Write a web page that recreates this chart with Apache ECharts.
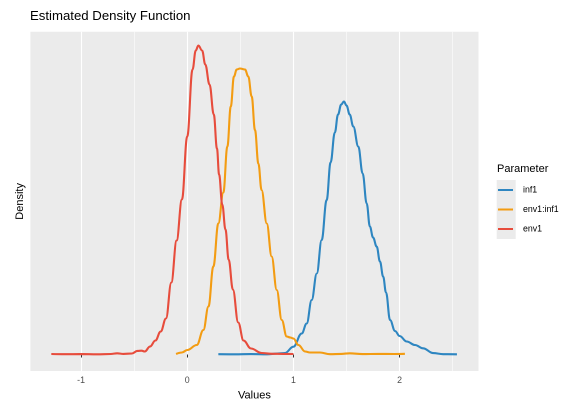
<!DOCTYPE html>
<html>
<head>
<meta charset="utf-8">
<script src="https://cdn.jsdelivr.net/npm/echarts@6/dist/echarts.min.js"></script>
<style>html,body{margin:0;padding:0;background:#fff;}#c{width:566px;height:402px;}</style>
</head>
<body>
<div id="c"></div>
<script>
var seriesNames = ['inf1', 'env1:inf1', 'env1'];
var xTicks = [-1, 0, 1, 2];
var xMinorTicks = [-0.5, 0.5, 1.5, 2.5];

var inf1X = [0.293, 0.45, 0.6, 0.75, 0.85, 0.92, 1.0, 1.078, 1.125, 1.172, 1.22, 1.266, 1.313, 1.35, 1.39, 1.42, 1.45, 1.476, 1.50, 1.53, 1.564, 1.611, 1.652, 1.69, 1.72, 1.75, 1.784, 1.815, 1.845, 1.872, 1.91, 1.957, 2.0, 2.067, 2.145, 2.22, 2.317, 2.41, 2.54];
var inf1Y = [0.003, 0.002, 0.004, 0.002, 0.01, 0.015, 0.078, 0.21, 0.31, 0.545, 0.81, 1.145, 1.545, 1.92, 2.22, 2.4, 2.5, 2.53, 2.49, 2.4, 2.28, 2.08, 1.81, 1.51, 1.28, 1.17, 1.08, 0.93, 0.78, 0.62, 0.345, 0.235, 0.185, 0.13, 0.095, 0.062, 0.014, 0.003, 0.002];

var envInfX = [-0.105, -0.05, 0.0, 0.09, 0.152, 0.2, 0.246, 0.293, 0.34, 0.378, 0.41, 0.44, 0.466, 0.497, 0.544, 0.575, 0.607, 0.638, 0.67, 0.70, 0.749, 0.795, 0.843, 0.89, 0.937, 0.97, 1.0, 1.047, 1.11, 1.156, 1.25, 1.345, 1.45, 1.53, 1.65, 1.8, 1.95, 2.05];
var envInfY = [0.005, 0.02, 0.045, 0.095, 0.245, 0.48, 0.88, 1.31, 1.62, 2.08, 2.48, 2.78, 2.85, 2.86, 2.85, 2.78, 2.58, 2.245, 1.91, 1.645, 1.31, 0.98, 0.645, 0.345, 0.18, 0.17, 0.16, 0.095, 0.03, 0.02, 0.02, 0.003, 0.006, 0.012, 0.004, 0.006, 0.005, 0.007];

var env1X = [-1.28, -1.15, -1.0, -0.85, -0.72, -0.66, -0.6, -0.52, -0.47, -0.43, -0.40, -0.35, -0.30, -0.25, -0.20, -0.15, -0.10, -0.05, 0.00, 0.05, 0.08, 0.105, 0.14, 0.17, 0.21, 0.25, 0.28, 0.30, 0.33, 0.36, 0.39, 0.43, 0.48, 0.53, 0.60, 0.70, 0.80, 0.90, 1.00];
var env1Y = [0.005, 0.003, 0.004, 0.002, 0.005, 0.012, 0.006, 0.01, 0.036, 0.038, 0.03, 0.08, 0.14, 0.23, 0.36, 0.72, 1.14, 1.55, 2.18, 2.85, 3.04, 3.09, 3.04, 2.9, 2.7, 2.4, 2.06, 1.8, 1.5, 1.25, 0.95, 0.65, 0.32, 0.14, 0.06, 0.015, 0.007, 0.006, 0.005];

var colors = ['#2E86C1', '#F39C12', '#E74C3C'];

function pairs(xs, ys) { return xs.map(function (x, i) { return [x, ys[i]]; }); }
var allData = [pairs(inf1X, inf1Y), pairs(envInfX, envInfY), pairs(env1X, env1Y)];

var FONT = 'Liberation Sans';
var chart = echarts.init(document.getElementById('c'), null, { renderer: 'canvas', devicePixelRatio: 2 });

var xMin = -1.477, xMax = 2.743;
var option = {
  animation: false,
  backgroundColor: '#ffffff',
  title: {
    text: 'Estimated Density Function',
    left: 30, top: 10, padding: 0,
    textStyle: { fontFamily: FONT, fontSize: 13.2, fontWeight: 'normal', color: '#000' }
  },
  grid: {
    left: 30.4, right: 87.5, top: 31.8, bottom: 31,
    outerBoundsMode: 'none', containLabel: false,
    show: true, backgroundColor: '#EBEBEB', borderWidth: 0
  },
  legend: {
    orient: 'vertical',
    left: 498, top: 180.25, padding: 0,
    itemWidth: 15, itemHeight: 2, itemGap: 0,
    icon: 'rect',
    data: seriesNames,
    textStyle: { fontFamily: FONT, fontSize: 8.8, color: '#000', lineHeight: 19.5, padding: [0, 0, 0, 5] }
  },
  graphic: [
    { type: 'rect', shape: { x: 496.7, y: 180, width: 19, height: 59 }, style: { fill: '#EBEBEB' }, z: -1, silent: true },
    { type: 'text', x: 497, y: 169, style: { text: 'Parameter', fontFamily: FONT, fontSize: 11, fill: '#000', verticalAlign: 'middle', align: 'left' } }
  ],
  xAxis: [{
    type: 'value', min: xMin, max: xMax,
    name: 'Values', nameLocation: 'middle', nameGap: 16,
    nameTextStyle: { fontFamily: FONT, fontSize: 11, color: '#000' },
    axisLine: { show: false },
    axisTick: { show: true, length: 3, lineStyle: { color: '#333333', width: 1 }, customValues: xTicks },
    axisLabel: { show: true, customValues: xTicks, fontFamily: FONT, fontSize: 8.8, color: '#4D4D4D', margin: 5 },
    splitLine: { show: true, lineStyle: { color: '#FFFFFF', width: 1.1 } }
  }, {
    type: 'value', min: xMin, max: xMax, position: 'bottom',
    axisLine: { show: false },
    axisTick: { show: false, customValues: xMinorTicks },
    axisLabel: { show: false, customValues: xMinorTicks },
    splitLine: { show: true, lineStyle: { color: '#FFFFFF', width: 0.55 } }
  }],
  yAxis: {
    type: 'value', min: -0.165, max: 3.227,
    name: 'Density', nameLocation: 'middle', nameGap: 5, nameRotate: 90,
    nameTextStyle: { fontFamily: FONT, fontSize: 11, color: '#000' },
    axisLine: { show: false }, axisTick: { show: false }, axisLabel: { show: false },
    splitLine: { show: false }
  },
  series: seriesNames.map(function (n, i) {
    return {
      name: n, type: 'line', xAxisIndex: 0, data: allData[i],
      showSymbol: false, smooth: 0.4, smoothMonotone: 'x',
      lineStyle: { color: colors[i], width: 2.1 },
      itemStyle: { color: colors[i] },
      z: 2 + i
    };
  })
};
chart.setOption(option);
</script>
</body>
</html>
